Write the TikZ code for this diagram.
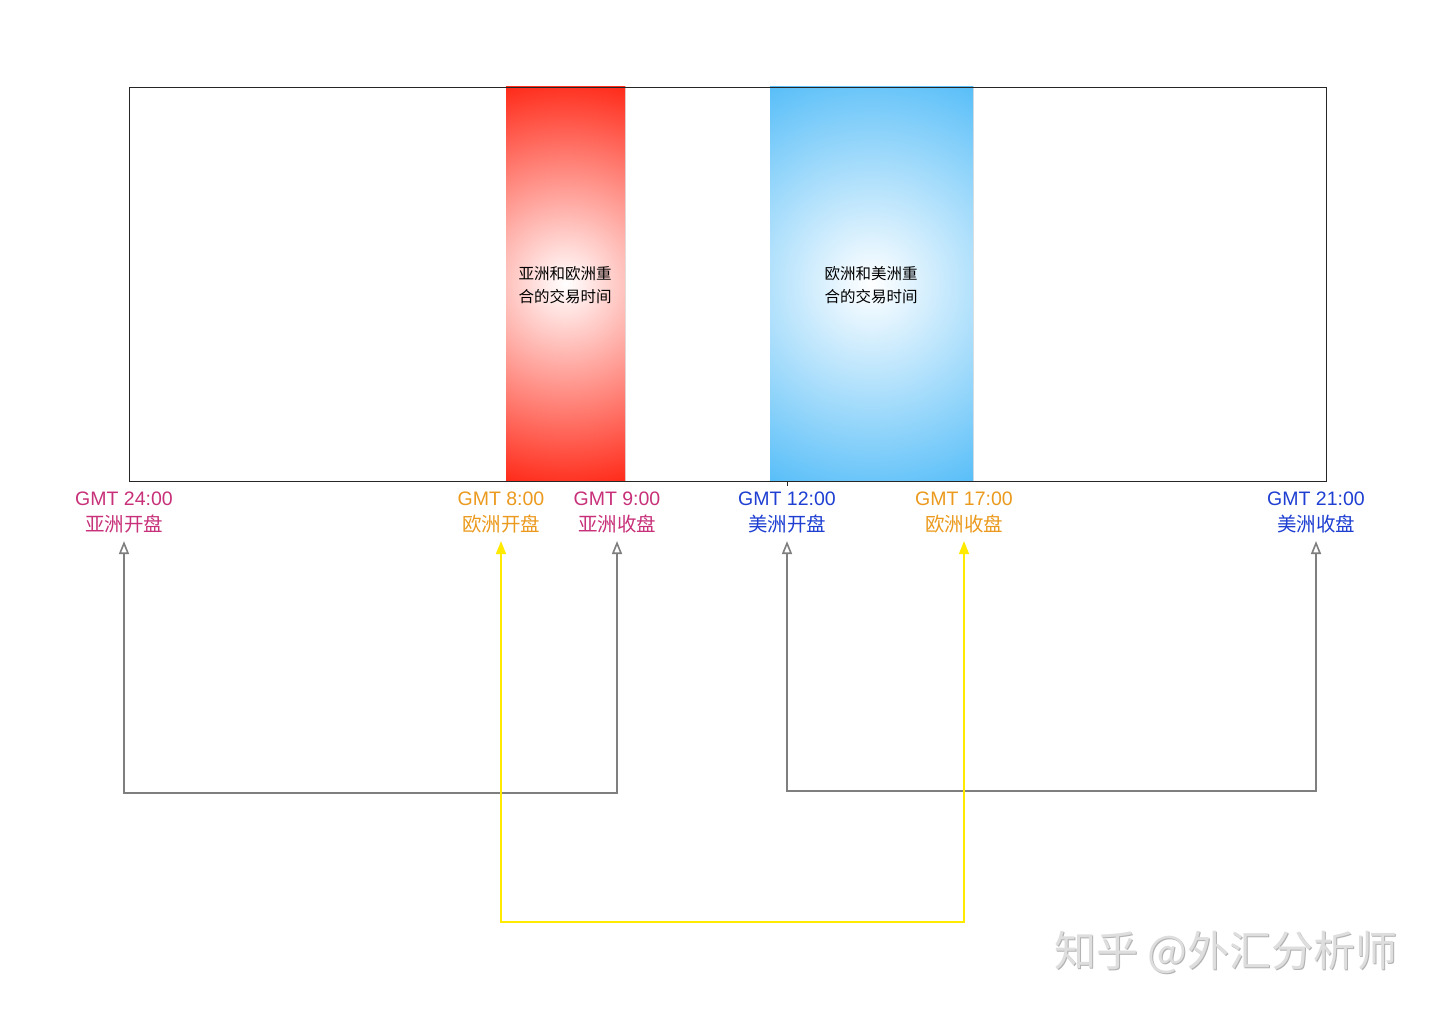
\documentclass[tikz,border=0pt]{standalone}
\usepackage{fontspec}
\setmainfont{Liberation Sans}
\newfontfamily\cjk{Noto Sans CJK SC}
\usetikzlibrary{arrows.meta}
\definecolor{asia}{HTML}{C8317A}
\definecolor{euro}{HTML}{EB9A1E}
\definecolor{amer}{HTML}{1E3FD2}
\definecolor{bandred}{HTML}{FF2412}
\definecolor{bandblue}{HTML}{55BDF8}
\definecolor{linegray}{HTML}{7F7F7F}
\definecolor{lineyellow}{HTML}{FFEA00}
\tikzset{
  lbl/.style={align=center, inner sep=0pt, font=\fontsize{19.5}{25.5}\selectfont},
  bandtxt/.style={align=center, inner sep=0pt, font=\fontsize{15.5}{22.5}\selectfont\cjk, text=black},
  glink/.style={draw=linegray, line width=1.6pt, {Triangle[open,length=13pt,width=10pt]}-{Triangle[open,length=13pt,width=10pt]}, shorten <=8pt, shorten >=8pt},
  ylink/.style={draw=lineyellow, line width=1.6pt, {Triangle[length=13pt,width=10pt]}-{Triangle[length=13pt,width=10pt]}, shorten <=8pt, shorten >=8pt},
  wmark/.style={anchor=west, inner sep=0pt, font=\fontsize{42}{42}\selectfont\cjk}
}
\begin{document}
\begin{tikzpicture}[x=1pt,y=-1pt]
\useasboundingbox[fill=white] (0,0) rectangle (1440,1011);
% bands
\begin{scope}
\clip (506,87) rectangle (625,481);
\fill[inner color=white, outer color=bandred] (565.5,284) circle[radius=212pt];
\end{scope}
\begin{scope}
\clip (770,87) rectangle (973,481);
\fill[inner color=white, outer color=bandblue] (871.5,284) circle[radius=226pt];
\end{scope}
% frame
\node[draw=black!85, line width=0.9pt, minimum width=1197pt, minimum height=394pt, inner sep=0pt] (frame) at (727.5,284) {};
\draw[black!85, line width=0.9pt] (787,481) -- (787,486);
% band texts
\node[bandtxt] (asiaeu) at (565,285) {亚洲和欧洲重\\合的交易时间};
\node[bandtxt] (euam) at (871,285) {欧洲和美洲重\\合的交易时间};
% labels
\node[lbl, text=asia] (l24) at (124,512.5) {GMT 24:00\\{\cjk 亚洲开盘}};
\node[lbl, text=euro] (l8) at (501,512.5) {GMT 8:00\\{\cjk 欧洲开盘}};
\node[lbl, text=asia] (l9) at (617,512.5) {GMT 9:00\\{\cjk 亚洲收盘}};
\node[lbl, text=amer] (l12) at (787,512.5) {GMT 12:00\\{\cjk 美洲开盘}};
\node[lbl, text=euro] (l17) at (964,512.5) {GMT 17:00\\{\cjk 欧洲收盘}};
\node[lbl, text=amer] (l21) at (1316,512.5) {GMT 21:00\\{\cjk 美洲收盘}};
% connectors
\coordinate (ca1) at (124,793);
\coordinate (ca2) at (617,793);
\coordinate (cb1) at (787,791);
\coordinate (cb2) at (1316,791);
\coordinate (cy1) at (501,922);
\coordinate (cy2) at (964,922);
\draw[glink] (l24.south) -- (ca1) -- (ca2) -- (l9.south);
\draw[glink] (l12.south) -- (cb1) -- (cb2) -- (l21.south);
\draw[ylink] (l8.south) -- (cy1) -- (cy2) -- (l17.south);
% watermark
\node[wmark, text=black!30] (wmshadow) at (1055,953) {知乎 @外汇分析师};
\node[wmark, text=black!13] (wm) at (1054,952) {知乎 @外汇分析师};
\end{tikzpicture}
\end{document}
